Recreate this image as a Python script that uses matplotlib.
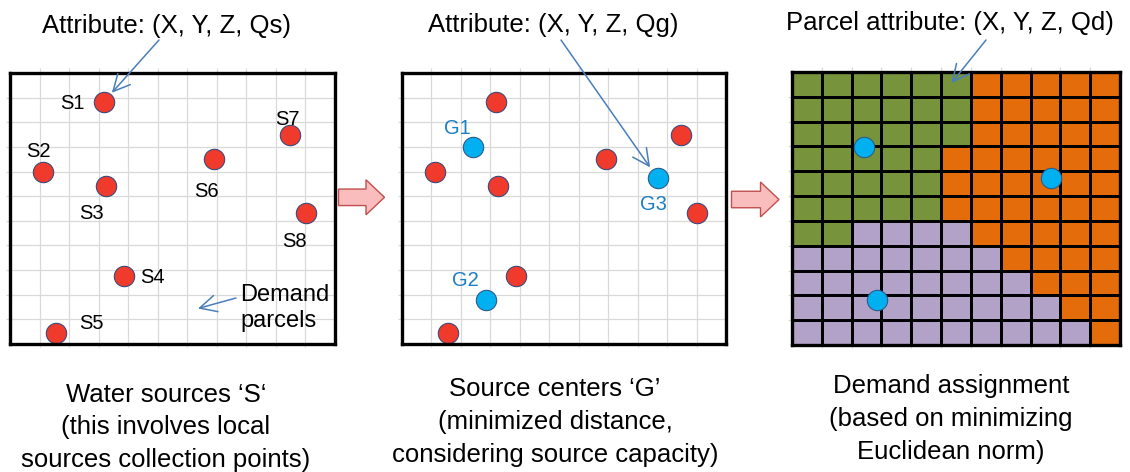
import numpy as np
import matplotlib
matplotlib.use("Agg")
import matplotlib.pyplot as plt
from matplotlib.colors import ListedColormap
from matplotlib.patches import FancyArrow

plt.rcParams['font.family'] = ['Liberation Sans', 'DejaVu Sans']

# ---------------- data ----------------
source_labels = ["S1", "S2", "S3", "S4", "S5", "S6", "S7", "S8"]
source_x = [3.18, 1.13, 3.25, 3.86, 1.56, 6.91, 9.47, 10.02]
source_y = [1.16, 4.00, 4.59, 8.24, 10.54, 3.49, 2.53, 5.69]

center_labels = ["G1", "G2", "G3"]
center_x = [2.40, 2.84, 8.68]
center_y = [3.02, 9.20, 4.27]

# parcel assignment: G = green cluster, O = orange cluster, P = purple cluster
assignment_rows = [
    "GGGGGGOOOOO",
    "GGGGGGOOOOO",
    "GGGGGGOOOOO",
    "GGGGGOOOOOO",
    "GGGGGOOOOOO",
    "GGGGGOOOOOO",
    "GGPPPPOOOOO",
    "PPPPPPPOOOO",
    "PPPPPPPPOOO",
    "PPPPPPPPPOO",
    "PPPPPPPPPPO",
]
cluster_codes = ["G", "O", "P"]
cluster_colors = ["#77933C", "#E46C0A", "#B3A2C7"]

titles = ["Attribute: (X, Y, Z, Qs)", "Attribute: (X, Y, Z, Qg)",
          "Parcel attribute: (X, Y, Z, Qd)"]
captions = [
    ["Water sources \u2018S\u2018", "(this involves local", "sources collection points)"],
    ["Source centers \u2018G\u2019", "(minimized distance,", "considering source capacity)"],
    ["Demand assignment", "(based on minimizing", "Euclidean norm)"],
]
N = 11

# ---------------- style / layout ----------------
W, H = 1130, 472
RED = "#EF3A2C"
RED_EDGE = "#3C4A7C"
BLUE = "#00B0F0"
BLUE_EDGE = "#2E5C8A"
GRID = "#D9D9D9"
ARROW = "#4A7EBB"
LBL_BLUE = "#1B7DC2"
DOT_S = 215

source_offsets = [(-32, -7), (-5, 15), (-15, -33), (28, -7), (35, 4),
                  (-8, -38), (-2, 10), (-12, -34)]
center_offsets = [(-15, 13), (-20, 14), (-4, -32)]

fig = plt.figure(figsize=(W / 100, H / 100), dpi=100)


def add_panel(x0, y0, x1, y1):
    ax = fig.add_axes([x0 / W, 1 - y1 / H, (x1 - x0) / W, (y1 - y0) / H])
    ax.set_xlim(0, N)
    ax.set_ylim(N, 0)
    ax.set_xticks([])
    ax.set_yticks([])
    for s in ax.spines.values():
        s.set_linewidth(2.4)
        s.set_color("black")
        s.set_zorder(10)
    # light grid extending slightly outside the frame
    ax.vlines(np.arange(1, N), -0.2, N + 0.12, color=GRID, lw=0.9,
              clip_on=False, zorder=0)
    ax.hlines(np.arange(1, N), -0.14, N, color=GRID, lw=0.9,
              clip_on=False, zorder=0)
    return ax


ax1 = add_panel(10, 73, 335, 344)
ax2 = add_panel(402, 73, 726, 344)
ax3 = add_panel(792, 72, 1120, 345)

# panel 1: sources
ax1.scatter(source_x, source_y, s=DOT_S, color=RED, edgecolor=RED_EDGE,
            linewidth=0.8, zorder=5)
for lab, x, y, (dx, dy) in zip(source_labels, source_x, source_y, source_offsets):
    ax1.annotate(lab, (x, y), xytext=(dx, dy), textcoords="offset pixels",
                 ha="center", va="baseline", fontsize=14.5, zorder=6)

# panel 2: sources + centers
ax2.scatter(source_x, source_y, s=DOT_S, color=RED, edgecolor=RED_EDGE,
            linewidth=0.8, zorder=5)
ax2.scatter(center_x, center_y, s=DOT_S, color=BLUE, edgecolor=BLUE_EDGE,
            linewidth=0.8, zorder=5)
for lab, x, y, (dx, dy) in zip(center_labels, center_x, center_y, center_offsets):
    ax2.annotate(lab, (x, y), xytext=(dx, dy), textcoords="offset pixels",
                 ha="center", va="baseline", fontsize=14.5, color=LBL_BLUE, zorder=6)

# panel 3: assignment grid
codes = np.array([[cluster_codes.index(c) for c in row] for row in assignment_rows])
ax3.pcolormesh(np.arange(N + 1), np.arange(N + 1), codes,
               cmap=ListedColormap(cluster_colors), vmin=-0.5, vmax=2.5,
               edgecolors="black", linewidth=0.75, zorder=2)
ax3.scatter(center_x, center_y, s=DOT_S, color=BLUE, edgecolor=BLUE_EDGE,
            linewidth=0.8, zorder=5)

# ---------------- overlay (texts & arrows) ----------------
ov = fig.add_axes([0, 0, 1, 1])
ov.set_xlim(0, W)
ov.set_ylim(H, 0)
ov.axis("off")
ov.patch.set_visible(False)

title_pos = [(167, 33), (553, 32), (950, 30)]
for t, (x, y) in zip(titles, title_pos):
    ov.text(x, y, t, ha="center", va="baseline", fontsize=18.5)

cap_pos = [(166, 401.5), (555, 396.5), (951, 393.5)]
for lines, (x, y) in zip(captions, cap_pos):
    for i, line in enumerate(lines):
        ov.text(x, y + i * 32.8, line, ha="center", va="baseline", fontsize=18.5)

ov.text(240, 301, "Demand", ha="left", va="baseline", fontsize=17)
ov.text(240, 327, "parcels", ha="left", va="baseline", fontsize=17)

arrow_kw = dict(arrowstyle="->,head_length=0.6,head_width=0.3",
                color=ARROW, lw=1.1, mutation_scale=20, shrinkA=0)
ov.annotate("", xy=(source_x[0], source_y[0]), xycoords=ax1.transData,
            xytext=(159, 40), textcoords="data",
            arrowprops=dict(shrinkB=8.5, **arrow_kw))
ov.annotate("", xy=(center_x[2], center_y[2]), xycoords=ax2.transData,
            xytext=(561, 40), textcoords="data",
            arrowprops=dict(shrinkB=9.5, **arrow_kw))
ov.annotate("", xy=(951.5, 83), xycoords="data",
            xytext=(986, 40), textcoords="data",
            arrowprops=dict(shrinkB=0, **arrow_kw))
ov.annotate("", xy=(198, 308.5), xycoords="data",
            xytext=(236, 298), textcoords="data",
            arrowprops=dict(shrinkB=0, **arrow_kw))

# block arrows between panels
for (x0, yc, x1) in [(338.5, 197.3, 384.5), (731.5, 199.5, 779)]:
    ov.add_patch(FancyArrow(x0, yc, x1 - x0, 0, width=16.5, head_width=35,
                            head_length=18.5, length_includes_head=True,
                            facecolor="#F9BDBD", edgecolor="#C0504D", lw=1.0))

fig.savefig("out.png", dpi=100)
